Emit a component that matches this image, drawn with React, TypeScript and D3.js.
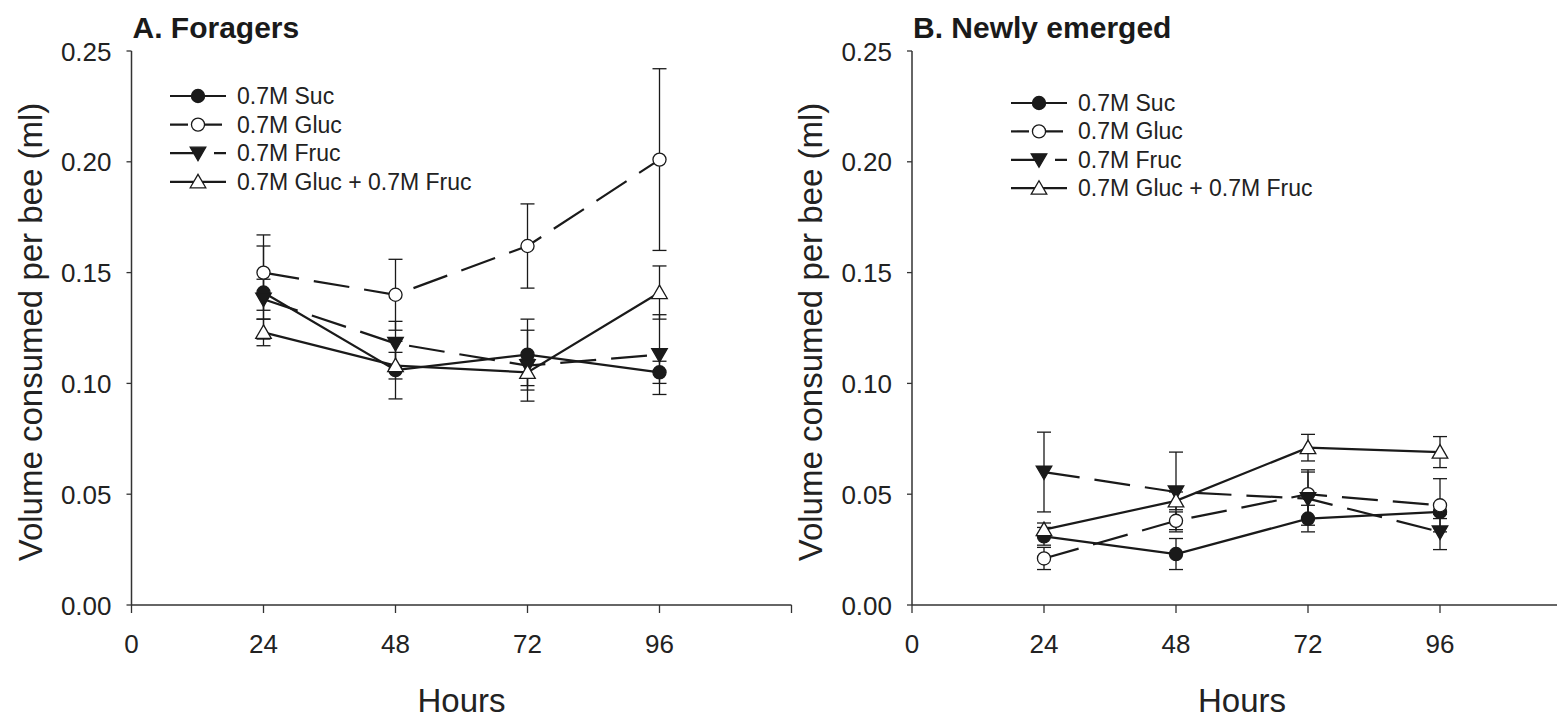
import React from "react";
import * as d3 from "d3";

const HOURS = [24, 48, 72, 96];
const X_TICKS = [0, 24, 48, 72, 96, 120];
const X_TICK_LABELS = ["0", "24", "48", "72", "96", ""];
const Y_TICKS = [0, 0.05, 0.1, 0.15, 0.2, 0.25];
const SERIES_NAMES = ["0.7M Suc", "0.7M Gluc", "0.7M Fruc", "0.7M Gluc + 0.7M Fruc"];

// Panel A: Foragers
const A_SUC = [0.141, 0.106, 0.113, 0.105];
const A_SUC_ERR = [0.021, 0.013, 0.016, 0.005];
const A_GLUC = [0.150, 0.140, 0.162, 0.201];
const A_GLUC_ERR = [0.017, 0.016, 0.019, 0.041];
const A_FRUC = [0.138, 0.118, 0.108, 0.113];
const A_FRUC_ERR = [0.009, 0.010, 0.016, 0.018];
const A_MIX = [0.123, 0.108, 0.105, 0.141];
const A_MIX_ERR = [0.006, 0.006, 0.006, 0.012];

// Panel B: Newly emerged
const B_SUC = [0.031, 0.023, 0.039, 0.042];
const B_SUC_ERR = [0.004, 0.007, 0.006, 0.003];
const B_GLUC = [0.021, 0.038, 0.050, 0.045];
const B_GLUC_ERR = [0.005, 0.004, 0.011, 0.012];
const B_FRUC = [0.060, 0.051, 0.048, 0.033];
const B_FRUC_ERR = [0.018, 0.018, 0.012, 0.008];
const B_MIX = [0.034, 0.047, 0.071, 0.069];
const B_MIX_ERR = [0.003, 0.004, 0.006, 0.007];

const FONT = "'Liberation Sans', Arial, Helvetica, sans-serif";
const INK = "#1a1a1a";

type Style = { dash: string | null; shape: "circle" | "triangle" | "invtriangle"; filled: boolean };
const STYLES: Style[] = [
  { dash: null, shape: "circle", filled: true },
  { dash: "36,15", shape: "circle", filled: false },
  { dash: "36,15", shape: "invtriangle", filled: true },
  { dash: null, shape: "triangle", filled: false },
];
const LEGEND_DASH = [null, "18,16", "30,14", null];

function Marker({ x, y, st }: { x: number; y: number; st: Style }) {
  const type = st.shape === "circle" ? d3.symbolCircle : d3.symbolTriangle;
  const size = st.shape === "circle" ? 135 : 105;
  const path = d3.symbol().type(type).size(size)() as string;
  const rot = st.shape === "invtriangle" ? 180 : 0;
  const dy = st.shape === "triangle" ? 1.5 : st.shape === "invtriangle" ? -1.5 : 0;
  return (
    <path
      d={path}
      transform={`translate(${x},${y + dy}) rotate(${rot})`}
      fill={st.filled ? INK : "#fff"}
      stroke={INK}
      strokeWidth={1.3}
    />
  );
}

type PanelProps = {
  x0: number;
  title: string;
  series: { vals: number[]; errs: number[] }[];
  legendX: number;
  legendY: number;
  legendStep: number;
};

function Panel({ x0, title, series, legendX, legendY, legendStep }: PanelProps) {
  const x = d3.scaleLinear().domain([0, 120]).range([x0, x0 + 660]);
  const y = d3.scaleLinear().domain([0, 0.25]).range([605, 51]);
  const line = d3
    .line<number>()
    .x((_, i) => x(HOURS[i]))
    .y((d) => y(d));
  const xMid = (x(0) + x(120)) / 2;
  return (
    <g>
      {/* title */}
      <text x={x0 + 1} y={38} fontFamily={FONT} fontWeight="bold" fontSize={30} fill={INK}>
        {title}
      </text>
      {/* axes */}
      <line x1={x(0)} x2={x(0)} y1={y(0.25)} y2={y(0)} stroke="#333" strokeWidth={1.5} />
      <line x1={x(0)} x2={x(120)} y1={y(0)} y2={y(0)} stroke="#333" strokeWidth={1.5} />
      {Y_TICKS.map((t) => (
        <g key={"y" + t}>
          <line x1={x(0) - 5} x2={x(0)} y1={y(t)} y2={y(t)} stroke="#333" strokeWidth={1.3} />
          <text
            x={x(0) - 20}
            y={y(t) + 9.5}
            textAnchor="end"
            fontFamily={FONT}
            fontSize={26}
            fill="#222"
          >
            {t.toFixed(2)}
          </text>
        </g>
      ))}
      {X_TICKS.map((t, i) => (
        <g key={"x" + t}>
          <line x1={x(t)} x2={x(t)} y1={y(0)} y2={y(0) + 8} stroke="#333" strokeWidth={1.3} />
          <text x={x(t)} y={653} textAnchor="middle" fontFamily={FONT} fontSize={26} fill="#222">
            {X_TICK_LABELS[i]}
          </text>
        </g>
      ))}
      {/* axis titles */}
      <text x={xMid} y={712} textAnchor="middle" fontFamily={FONT} fontSize={33} fill="#222">
        Hours
      </text>
      <text
        transform={`translate(${x0 - 90},${332}) rotate(-90)`}
        textAnchor="middle"
        fontFamily={FONT}
        fontSize={33}
        fill="#222"
      >
        Volume consumed per bee (ml)
      </text>
      {/* lines */}
      {series.map((s, k) => (
        <path
          key={"l" + k}
          d={line(s.vals) as string}
          fill="none"
          stroke={INK}
          strokeWidth={2.2}
          strokeDasharray={STYLES[k].dash ?? undefined}
        />
      ))}
      {/* error bars */}
      {series.map((s, k) =>
        s.vals.map((v, i) => {
          const cx = x(HOURS[i]);
          const yt = y(v + s.errs[i]);
          const yb = y(v - s.errs[i]);
          return (
            <g key={"e" + k + "_" + i} stroke={INK} strokeWidth={1.3}>
              <line x1={cx} x2={cx} y1={yt} y2={yb} />
              <line x1={cx - 7} x2={cx + 7} y1={yt} y2={yt} />
              <line x1={cx - 7} x2={cx + 7} y1={yb} y2={yb} />
            </g>
          );
        })
      )}
      {/* markers */}
      {series.map((s, k) =>
        s.vals.map((v, i) => <Marker key={"m" + k + "_" + i} x={x(HOURS[i])} y={y(v)} st={STYLES[k]} />)
      )}
      {/* legend */}
      {SERIES_NAMES.map((name, k) => {
        const ly = legendY + k * legendStep;
        return (
          <g key={"lg" + k}>
            <line
              x1={legendX}
              x2={legendX + 56}
              y1={ly}
              y2={ly}
              stroke={INK}
              strokeWidth={2.2}
              strokeDasharray={LEGEND_DASH[k] ?? undefined}
            />
            <Marker x={legendX + 28} y={ly} st={STYLES[k]} />
            <text x={legendX + 67} y={ly + 8} fontFamily={FONT} fontSize={23} fill="#222">
              {name}
            </text>
          </g>
        );
      })}
    </g>
  );
}

export default function App() {
  const seriesA = [
    { vals: A_SUC, errs: A_SUC_ERR },
    { vals: A_GLUC, errs: A_GLUC_ERR },
    { vals: A_FRUC, errs: A_FRUC_ERR },
    { vals: A_MIX, errs: A_MIX_ERR },
  ];
  const seriesB = [
    { vals: B_SUC, errs: B_SUC_ERR },
    { vals: B_GLUC, errs: B_GLUC_ERR },
    { vals: B_FRUC, errs: B_FRUC_ERR },
    { vals: B_MIX, errs: B_MIX_ERR },
  ];
  return (
    <svg
      width={1557}
      height={718}
      style={{ position: "absolute", left: 0, top: 0, background: "#fff" }}
    >
      <rect width={1557} height={718} fill="#fff" />
      <Panel x0={131.5} title="A. Foragers" series={seriesA} legendX={170} legendY={96} legendStep={28.6} />
      <Panel x0={912} title="B. Newly emerged" series={seriesB} legendX={1011} legendY={103} legendStep={28.4} />
    </svg>
  );
}
